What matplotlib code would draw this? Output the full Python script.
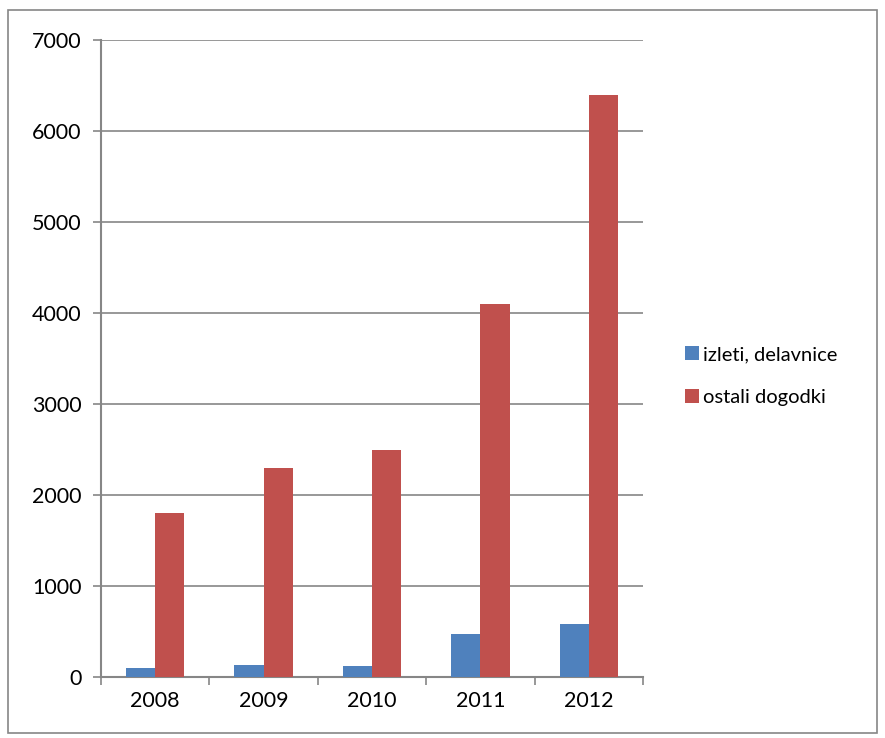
import matplotlib
matplotlib.use("Agg")
import matplotlib.pyplot as plt
from matplotlib.patches import Rectangle
import numpy as np

years = ["2008", "2009", "2010", "2011", "2012"]
izleti = [100, 130, 120, 475, 585]
ostali = [1800, 2300, 2500, 4100, 6400]
series_names = ["izleti, delavnice", "ostali dogodki"]
colors = ["#4F81BD", "#C0504D"]

plt.rcParams['font.family'] = ['Lato', 'DejaVu Sans']
W, H = 885, 738
fig = plt.figure(figsize=(W/100, H/100), dpi=100)
ax = fig.add_axes([101/W, 1-677/H, (643-101)/W, (677-40)/H])

x = np.arange(len(years))
bw = 0.27
ax.bar(x - bw/2, izleti, bw, color=colors[0], label=series_names[0], zorder=3)
ax.bar(x + bw/2, ostali, bw, color=colors[1], label=series_names[1], zorder=3)

ax.set_xlim(-0.5, len(years) - 0.5)
ax.set_ylim(0, 7000)
ax.set_yticks(np.arange(0, 7001, 1000))
ax.tick_params(axis='y', labelsize=15.5, length=6, width=1.2, color="#868686", pad=8)
ax.set_xticks(np.arange(-0.5, len(years), 1.0))
ax.set_xticklabels([])
ax.tick_params(axis='x', which='major', length=6, width=1.2, color="#868686")
ax.set_xticks(x, minor=True)
ax.set_xticklabels(years, minor=True)
ax.tick_params(axis='x', which='minor', length=0, labelsize=15.5, pad=10)
ax.grid(axis='y', color="#868686", linewidth=1.2, zorder=0)
for s in ['top', 'right']:
    ax.spines[s].set_visible(False)
for s in ['left', 'bottom']:
    ax.spines[s].set_color("#868686")
    ax.spines[s].set_linewidth(1.5)

leg = fig.legend(loc='center left', bbox_to_anchor=(677/W, 1-376/H), frameon=False,
                 fontsize=14.5, handlelength=0.7, handleheight=0.7, handletextpad=0.2,
                 labelspacing=1.25, borderaxespad=0)

fig.patches.append(Rectangle((8/W, 1-733/H), (877-8)/W, (733-10)/H, transform=fig.transFigure,
                             fill=False, edgecolor="#868686", linewidth=1.2))
fig.savefig("out.png", dpi=100)
